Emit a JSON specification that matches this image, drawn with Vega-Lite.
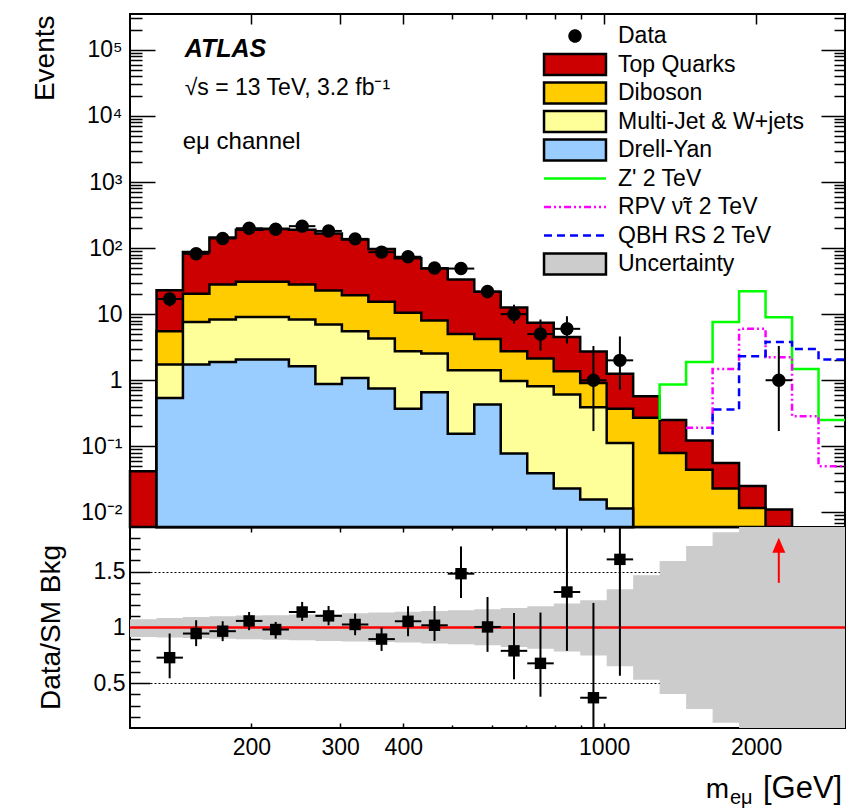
{
  "$schema": "https://vega.github.io/schema/vega-lite/v6.json",
  "background": "white",
  "padding": {"left": 29, "top": 12, "right": 0, "bottom": 0},
  "bounds": "flush",
  "spacing": 0,
  "config": {
    "font": "Liberation Sans",
    "view": {"stroke": "black", "strokeWidth": 2},
    "axis": {
      "domain": false, "grid": false, "tickColor": "black", "tickWidth": 1.5,
      "labelFont": "Liberation Sans", "labelFontSize": 23, "labelColor": "black",
      "labelOverlap": false, "labelFlush": false,
      "titleFont": "Liberation Sans", "titleFontSize": 28, "titleFontWeight": "normal", "titleColor": "black"
    },
    "legend": {
      "labelFont": "Liberation Sans", "labelFontSize": 23, "labelColor": "black", "labelLimit": 400,
      "symbolSize": 441, "symbolStrokeWidth": 2.5, "symbolFillColor": "transparent", "symbolOpacity": 1,
      "gridAlign": "all", "rowPadding": -3.5, "padding": 0, "offset": 0, "labelOffset": 31
    }
  },
  "datasets": {
    "bkg": [
      {"series": "Top Quarks", "m": 115, "stack_top": 0.042},
      {"series": "Top Quarks", "m": 129.8, "stack_top": 23},
      {"series": "Top Quarks", "m": 146.4, "stack_top": 87},
      {"series": "Top Quarks", "m": 165.2, "stack_top": 145},
      {"series": "Top Quarks", "m": 186.4, "stack_top": 190},
      {"series": "Top Quarks", "m": 210.4, "stack_top": 197},
      {"series": "Top Quarks", "m": 237.4, "stack_top": 190},
      {"series": "Top Quarks", "m": 267.9, "stack_top": 166},
      {"series": "Top Quarks", "m": 302.3, "stack_top": 135},
      {"series": "Top Quarks", "m": 341.1, "stack_top": 97},
      {"series": "Top Quarks", "m": 384.9, "stack_top": 70},
      {"series": "Top Quarks", "m": 434.3, "stack_top": 49},
      {"series": "Top Quarks", "m": 490.0, "stack_top": 33.5},
      {"series": "Top Quarks", "m": 553.0, "stack_top": 21.8},
      {"series": "Top Quarks", "m": 623.9, "stack_top": 12.6},
      {"series": "Top Quarks", "m": 704.1, "stack_top": 7.4},
      {"series": "Top Quarks", "m": 794.5, "stack_top": 4.5},
      {"series": "Top Quarks", "m": 896.5, "stack_top": 2.72},
      {"series": "Top Quarks", "m": 1011.6, "stack_top": 1.25},
      {"series": "Top Quarks", "m": 1141.4, "stack_top": 0.57},
      {"series": "Top Quarks", "m": 1288.0, "stack_top": 0.25},
      {"series": "Top Quarks", "m": 1453.4, "stack_top": 0.122},
      {"series": "Top Quarks", "m": 1640.0, "stack_top": 0.056},
      {"series": "Top Quarks", "m": 1850.5, "stack_top": 0.025},
      {"series": "Top Quarks", "m": 2088.1, "stack_top": 0.011},
      {"series": "Top Quarks", "m": 2356.3, "stack_top": 0.011},
      {"series": "Diboson", "m": 129.8, "stack_top": 5.5},
      {"series": "Diboson", "m": 146.4, "stack_top": 20.3},
      {"series": "Diboson", "m": 165.2, "stack_top": 28.2},
      {"series": "Diboson", "m": 186.4, "stack_top": 30.9},
      {"series": "Diboson", "m": 210.4, "stack_top": 30.9},
      {"series": "Diboson", "m": 237.4, "stack_top": 28.2},
      {"series": "Diboson", "m": 267.9, "stack_top": 22.9},
      {"series": "Diboson", "m": 302.3, "stack_top": 19.4},
      {"series": "Diboson", "m": 341.1, "stack_top": 15.4},
      {"series": "Diboson", "m": 384.9, "stack_top": 10.5},
      {"series": "Diboson", "m": 434.3, "stack_top": 8.0},
      {"series": "Diboson", "m": 490.0, "stack_top": 5.0},
      {"series": "Diboson", "m": 553.0, "stack_top": 4.2},
      {"series": "Diboson", "m": 623.9, "stack_top": 2.75},
      {"series": "Diboson", "m": 704.1, "stack_top": 2.13},
      {"series": "Diboson", "m": 794.5, "stack_top": 1.37},
      {"series": "Diboson", "m": 896.5, "stack_top": 0.91},
      {"series": "Diboson", "m": 1011.6, "stack_top": 0.37},
      {"series": "Diboson", "m": 1141.4, "stack_top": 0.27},
      {"series": "Diboson", "m": 1288.0, "stack_top": 0.079},
      {"series": "Diboson", "m": 1453.4, "stack_top": 0.044},
      {"series": "Diboson", "m": 1640.0, "stack_top": 0.023},
      {"series": "Diboson", "m": 1850.5, "stack_top": 0.0116},
      {"series": "Diboson", "m": 2088.1, "stack_top": 0.0116},
      {"series": "Multi-Jet & W+jets", "m": 129.8, "stack_top": 1.73},
      {"series": "Multi-Jet & W+jets", "m": 146.4, "stack_top": 7.6},
      {"series": "Multi-Jet & W+jets", "m": 165.2, "stack_top": 8.3},
      {"series": "Multi-Jet & W+jets", "m": 186.4, "stack_top": 9.1},
      {"series": "Multi-Jet & W+jets", "m": 210.4, "stack_top": 9.1},
      {"series": "Multi-Jet & W+jets", "m": 237.4, "stack_top": 8.3},
      {"series": "Multi-Jet & W+jets", "m": 267.9, "stack_top": 7.0},
      {"series": "Multi-Jet & W+jets", "m": 302.3, "stack_top": 5.5},
      {"series": "Multi-Jet & W+jets", "m": 341.1, "stack_top": 4.3},
      {"series": "Multi-Jet & W+jets", "m": 384.9, "stack_top": 2.75},
      {"series": "Multi-Jet & W+jets", "m": 434.3, "stack_top": 2.54},
      {"series": "Multi-Jet & W+jets", "m": 490.0, "stack_top": 1.42},
      {"series": "Multi-Jet & W+jets", "m": 553.0, "stack_top": 1.42},
      {"series": "Multi-Jet & W+jets", "m": 623.9, "stack_top": 0.97},
      {"series": "Multi-Jet & W+jets", "m": 704.1, "stack_top": 0.81},
      {"series": "Multi-Jet & W+jets", "m": 794.5, "stack_top": 0.61},
      {"series": "Multi-Jet & W+jets", "m": 896.5, "stack_top": 0.39},
      {"series": "Multi-Jet & W+jets", "m": 1011.6, "stack_top": 0.112},
      {"series": "Multi-Jet & W+jets", "m": 1141.4, "stack_top": 0.112},
      {"series": "Drell-Yan", "m": 129.8, "stack_top": 0.54},
      {"series": "Drell-Yan", "m": 146.4, "stack_top": 1.73},
      {"series": "Drell-Yan", "m": 165.2, "stack_top": 1.89},
      {"series": "Drell-Yan", "m": 186.4, "stack_top": 2.06},
      {"series": "Drell-Yan", "m": 210.4, "stack_top": 2.06},
      {"series": "Drell-Yan", "m": 237.4, "stack_top": 1.63},
      {"series": "Drell-Yan", "m": 267.9, "stack_top": 0.88},
      {"series": "Drell-Yan", "m": 302.3, "stack_top": 1.08},
      {"series": "Drell-Yan", "m": 341.1, "stack_top": 0.75},
      {"series": "Drell-Yan", "m": 384.9, "stack_top": 0.37},
      {"series": "Drell-Yan", "m": 434.3, "stack_top": 0.66},
      {"series": "Drell-Yan", "m": 490.0, "stack_top": 0.155},
      {"series": "Drell-Yan", "m": 553.0, "stack_top": 0.43},
      {"series": "Drell-Yan", "m": 623.9, "stack_top": 0.078},
      {"series": "Drell-Yan", "m": 704.1, "stack_top": 0.039},
      {"series": "Drell-Yan", "m": 794.5, "stack_top": 0.023},
      {"series": "Drell-Yan", "m": 896.5, "stack_top": 0.0156},
      {"series": "Drell-Yan", "m": 1011.6, "stack_top": 0.0114},
      {"series": "Drell-Yan", "m": 1141.4, "stack_top": 0.0114}
    ],
    "sig": [
      {"series": "Z' 2 TeV", "m": 1288.0, "events": 0.25},
      {"series": "Z' 2 TeV", "m": 1288.0, "events": 0.86},
      {"series": "Z' 2 TeV", "m": 1453.4, "events": 1.88},
      {"series": "Z' 2 TeV", "m": 1640.0, "events": 7.6},
      {"series": "Z' 2 TeV", "m": 1850.5, "events": 22.3},
      {"series": "Z' 2 TeV", "m": 2088.1, "events": 9.0},
      {"series": "Z' 2 TeV", "m": 2356.3, "events": 1.48},
      {"series": "Z' 2 TeV", "m": 2658.8, "events": 0.25},
      {"series": "Z' 2 TeV", "m": 3000, "events": 0.25},
      {"series": "RPV ν̃τ 2 TeV", "m": 1453.4, "events": 0.19},
      {"series": "RPV ν̃τ 2 TeV", "m": 1640.0, "events": 1.48},
      {"series": "RPV ν̃τ 2 TeV", "m": 1850.5, "events": 6.0},
      {"series": "RPV ν̃τ 2 TeV", "m": 2088.1, "events": 2.23},
      {"series": "RPV ν̃τ 2 TeV", "m": 2356.3, "events": 0.285},
      {"series": "RPV ν̃τ 2 TeV", "m": 2658.8, "events": 0.05},
      {"series": "RPV ν̃τ 2 TeV", "m": 3000, "events": 0.05},
      {"series": "QBH RS 2 TeV", "m": 1640.0, "events": 0.15},
      {"series": "QBH RS 2 TeV", "m": 1640.0, "events": 0.36},
      {"series": "QBH RS 2 TeV", "m": 1850.5, "events": 2.31},
      {"series": "QBH RS 2 TeV", "m": 2088.1, "events": 3.8},
      {"series": "QBH RS 2 TeV", "m": 2356.3, "events": 2.98},
      {"series": "QBH RS 2 TeV", "m": 2658.8, "events": 2.06},
      {"series": "QBH RS 2 TeV", "m": 3000, "events": 2.06}
    ],
    "obs": [
      {"series": "Data", "m": 137.8, "lo_m": 129.8, "hi_m": 146.4, "n": 17, "n_lo": 13, "n_hi": 21.2},
      {"series": "Data", "m": 155.5, "lo_m": 146.4, "hi_m": 165.2, "n": 82, "n_lo": 73, "n_hi": 91},
      {"series": "Data", "m": 175.5, "lo_m": 165.2, "hi_m": 186.4, "n": 140, "n_lo": 128, "n_hi": 152},
      {"series": "Data", "m": 198.0, "lo_m": 186.4, "hi_m": 210.4, "n": 200, "n_lo": 186, "n_hi": 214},
      {"series": "Data", "m": 223.5, "lo_m": 210.4, "hi_m": 237.4, "n": 193, "n_lo": 179, "n_hi": 207},
      {"series": "Data", "m": 252.2, "lo_m": 237.4, "hi_m": 267.9, "n": 215, "n_lo": 200, "n_hi": 230},
      {"series": "Data", "m": 284.5, "lo_m": 267.9, "hi_m": 302.3, "n": 182, "n_lo": 168, "n_hi": 196},
      {"series": "Data", "m": 321.1, "lo_m": 302.3, "hi_m": 341.1, "n": 138, "n_lo": 126, "n_hi": 150},
      {"series": "Data", "m": 362.3, "lo_m": 341.1, "hi_m": 384.9, "n": 87, "n_lo": 78, "n_hi": 96},
      {"series": "Data", "m": 408.8, "lo_m": 384.9, "hi_m": 434.3, "n": 74, "n_lo": 65, "n_hi": 83},
      {"series": "Data", "m": 461.3, "lo_m": 434.3, "hi_m": 490.0, "n": 50, "n_lo": 43, "n_hi": 57},
      {"series": "Data", "m": 520.5, "lo_m": 490.0, "hi_m": 553.0, "n": 49, "n_lo": 42, "n_hi": 56},
      {"series": "Data", "m": 587.4, "lo_m": 553.0, "hi_m": 623.9, "n": 22, "n_lo": 17.3, "n_hi": 26.7},
      {"series": "Data", "m": 662.8, "lo_m": 623.9, "hi_m": 704.1, "n": 10, "n_lo": 7.2, "n_hi": 13.9},
      {"series": "Data", "m": 747.9, "lo_m": 704.1, "hi_m": 794.5, "n": 5, "n_lo": 2.8, "n_hi": 8.3},
      {"series": "Data", "m": 843.9, "lo_m": 794.5, "hi_m": 896.5, "n": 6, "n_lo": 3.6, "n_hi": 9.3},
      {"series": "Data", "m": 952.3, "lo_m": 896.5, "hi_m": 1011.6, "n": 1, "n_lo": 0.17, "n_hi": 3.3},
      {"series": "Data", "m": 1074.5, "lo_m": 1011.6, "hi_m": 1141.4, "n": 2, "n_lo": 0.72, "n_hi": 4.6},
      {"series": "Data", "m": 2218.2, "lo_m": 2088.1, "hi_m": 2356.3, "n": 1, "n_lo": 0.17, "n_hi": 3.3}
    ],
    "ratio": [
      {"m": 137.8, "lo_m": 129.8, "hi_m": 146.4, "r": 0.73, "r_lo": 0.545, "r_hi": 0.946},
      {"m": 155.5, "lo_m": 146.4, "hi_m": 165.2, "r": 0.946, "r_lo": 0.833, "r_hi": 1.065},
      {"m": 175.5, "lo_m": 165.2, "hi_m": 186.4, "r": 0.967, "r_lo": 0.878, "r_hi": 1.056},
      {"m": 198.0, "lo_m": 186.4, "hi_m": 210.4, "r": 1.059, "r_lo": 0.976, "r_hi": 1.139},
      {"m": 223.5, "lo_m": 210.4, "hi_m": 237.4, "r": 0.982, "r_lo": 0.9, "r_hi": 1.05},
      {"m": 252.2, "lo_m": 237.4, "hi_m": 267.9, "r": 1.139, "r_lo": 1.059, "r_hi": 1.229},
      {"m": 284.5, "lo_m": 267.9, "hi_m": 302.3, "r": 1.104, "r_lo": 1.02, "r_hi": 1.193},
      {"m": 321.1, "lo_m": 302.3, "hi_m": 341.1, "r": 1.027, "r_lo": 0.931, "r_hi": 1.125},
      {"m": 362.3, "lo_m": 341.1, "hi_m": 384.9, "r": 0.896, "r_lo": 0.79, "r_hi": 1.0},
      {"m": 408.8, "lo_m": 384.9, "hi_m": 434.3, "r": 1.056, "r_lo": 0.922, "r_hi": 1.19},
      {"m": 461.3, "lo_m": 434.3, "hi_m": 490.0, "r": 1.02, "r_lo": 0.88, "r_hi": 1.193},
      {"m": 520.5, "lo_m": 490.0, "hi_m": 553.0, "r": 1.482, "r_lo": 1.264, "r_hi": 1.726},
      {"m": 587.4, "lo_m": 553.0, "hi_m": 623.9, "r": 1.005, "r_lo": 0.782, "r_hi": 1.273},
      {"m": 662.8, "lo_m": 623.9, "hi_m": 704.1, "r": 0.791, "r_lo": 0.536, "r_hi": 1.13},
      {"m": 747.9, "lo_m": 704.1, "hi_m": 794.5, "r": 0.679, "r_lo": 0.38, "r_hi": 1.134},
      {"m": 843.9, "lo_m": 794.5, "hi_m": 896.5, "r": 1.318, "r_lo": 0.791, "r_hi": 2.1},
      {"m": 952.3, "lo_m": 896.5, "hi_m": 1011.6, "r": 0.371, "r_lo": 0.06, "r_hi": 1.22},
      {"m": 1074.5, "lo_m": 1011.6, "hi_m": 1141.4, "r": 1.61, "r_lo": 0.568, "r_hi": 2.4}
    ],
    "band": [
      {"m": 115, "up": 1.074, "down": 0.916},
      {"m": 129.8, "up": 1.086, "down": 0.91},
      {"m": 146.4, "up": 1.095, "down": 0.905},
      {"m": 165.2, "up": 1.1, "down": 0.9},
      {"m": 186.4, "up": 1.107, "down": 0.895},
      {"m": 210.4, "up": 1.11, "down": 0.89},
      {"m": 237.4, "up": 1.116, "down": 0.885},
      {"m": 267.9, "up": 1.12, "down": 0.88},
      {"m": 302.3, "up": 1.128, "down": 0.875},
      {"m": 341.1, "up": 1.134, "down": 0.87},
      {"m": 384.9, "up": 1.14, "down": 0.865},
      {"m": 434.3, "up": 1.148, "down": 0.857},
      {"m": 490.0, "up": 1.155, "down": 0.85},
      {"m": 553.0, "up": 1.163, "down": 0.84},
      {"m": 623.9, "up": 1.175, "down": 0.825},
      {"m": 704.1, "up": 1.19, "down": 0.81},
      {"m": 794.5, "up": 1.214, "down": 0.785},
      {"m": 896.5, "up": 1.244, "down": 0.75},
      {"m": 1011.6, "up": 1.342, "down": 0.652},
      {"m": 1141.4, "up": 1.467, "down": 0.533},
      {"m": 1288.0, "up": 1.595, "down": 0.405},
      {"m": 1453.4, "up": 1.729, "down": 0.271},
      {"m": 1640.0, "up": 1.854, "down": 0.146},
      {"m": 1850.5, "up": 1.9, "down": 0.1},
      {"m": 2088.1, "up": 1.9, "down": 0.1},
      {"m": 2356.3, "up": 1.9, "down": 0.1},
      {"m": 2658.8, "up": 1.9, "down": 0.1},
      {"m": 3000, "up": 1.9, "down": 0.1}
    ]
  },
  "resolve": {
    "scale": {"fill": "independent", "stroke": "independent", "shape": "independent", "strokeDash": "independent"},
    "legend": {"fill": "independent", "stroke": "independent", "shape": "independent", "strokeDash": "independent"}
  },
  "vconcat": [
    {
      "width": 715,
      "height": 513,
      "resolve": {"axis": {"x": "independent", "y": "independent"}},
      "layer": [
        {
          "data": {"name": "bkg"},
          "transform": [{"filter": "datum.series === 'Top Quarks'"}],
          "mark": {"type": "area", "interpolate": "step-after", "strokeWidth": 2.5},
          "encoding": {
            "x": {"field": "m", "type": "quantitative", "scale": {"type": "log", "domain": [115, 3000], "nice": false},
                  "axis": {"orient": "bottom", "values": [200, 300, 400, 1000, 2000], "tickSize": -10, "labels": false, "title": null}},
            "y": {"field": "stack_top", "type": "quantitative", "stack": null, "scale": {"type": "log", "domain": [0.006, 350000], "nice": false},
                  "axis": {"orient": "left", "values": [0.01, 0.1, 1, 10, 100, 1000, 10000, 100000], "tickSize": -25, "labelPadding": 33,
                           "labelExpr": "datum.value < 0.05 ? '10⁻²' : datum.value < 0.5 ? '10⁻¹' : datum.value < 5 ? '1' : datum.value < 50 ? '10' : datum.value < 500 ? '10²' : datum.value < 5000 ? '10³' : datum.value < 50000 ? '10⁴' : '10⁵'",
                           "title": "Events", "titleX": -77, "titleY": 1, "titleAlign": "right", "titleAngle": -90, "titleBaseline": "alphabetic"}},
            "fill": {"field": "series", "type": "nominal",
                     "scale": {"domain": ["Data", "Top Quarks", "Diboson", "Multi-Jet & W+jets", "Drell-Yan", "Z' 2 TeV", "RPV ν̃τ 2 TeV", "QBH RS 2 TeV", "Uncertainty"],
                               "range": ["#000000", "#cc0000", "#ffcc00", "#ffff99", "#99ccff", "transparent", "transparent", "transparent", "#cccccc"]},
                     "legend": {"orient": "none", "legendX": 433, "legendY": 10, "title": null}},
            "stroke": {"field": "series", "type": "nominal",
                       "scale": {"domain": ["Data", "Top Quarks", "Diboson", "Multi-Jet & W+jets", "Drell-Yan", "Z' 2 TeV", "RPV ν̃τ 2 TeV", "QBH RS 2 TeV", "Uncertainty"],
                                 "range": ["#000000", "#000000", "#000000", "#000000", "#000000", "#00ff00", "#ff00ff", "#0000ff", "#000000"]},
                       "legend": {"orient": "none", "legendX": 433, "legendY": 10, "title": null}}
          }
        },
        {
          "data": {"name": "bkg"},
          "transform": [{"filter": "datum.series === 'Diboson'"}],
          "mark": {"type": "area", "interpolate": "step-after", "strokeWidth": 2.5},
          "encoding": {
            "x": {"field": "m", "type": "quantitative", "scale": {"type": "log", "domain": [115, 3000], "nice": false},
                  "axis": {"orient": "bottom", "values": [500, 600, 700, 800, 900], "tickSize": -5, "labels": false, "title": null}},
            "y": {"field": "stack_top", "type": "quantitative", "stack": null, "scale": {"type": "log", "domain": [0.006, 350000], "nice": false},
                  "axis": {"orient": "left", "values": [0.007, 0.008, 0.009, 0.02, 0.03, 0.04, 0.05, 0.06, 0.07, 0.08, 0.09, 0.2, 0.3, 0.4, 0.5, 0.6, 0.7, 0.8, 0.9, 2, 3, 4, 5, 6, 7, 8, 9, 20, 30, 40, 50, 60, 70, 80, 90, 200, 300, 400, 500, 600, 700, 800, 900, 2000, 3000, 4000, 5000, 6000, 7000, 8000, 9000, 20000, 30000, 40000, 50000, 60000, 70000, 80000, 90000, 200000, 300000],
                           "tickSize": -12, "labels": false, "title": null}},
            "fill": {"field": "series", "type": "nominal", "legend": {"orient": "none", "legendX": 433, "legendY": 10, "title": null}},
            "stroke": {"field": "series", "type": "nominal", "legend": {"orient": "none", "legendX": 433, "legendY": 10, "title": null}}
          }
        },
        {
          "data": {"name": "bkg"},
          "transform": [{"filter": "datum.series === 'Multi-Jet & W+jets'"}],
          "mark": {"type": "area", "interpolate": "step-after", "strokeWidth": 2.5},
          "encoding": {
            "x": {"field": "m", "type": "quantitative", "scale": {"type": "log", "domain": [115, 3000], "nice": false},
                  "axis": {"orient": "top", "values": [200, 300, 400, 1000, 2000], "tickSize": -10, "labels": false, "title": null}},
            "y": {"field": "stack_top", "type": "quantitative", "stack": null, "scale": {"type": "log", "domain": [0.006, 350000], "nice": false},
                  "axis": {"orient": "right", "values": [0.01, 0.1, 1, 10, 100, 1000, 10000, 100000], "tickSize": -24, "labels": false, "title": null}},
            "fill": {"field": "series", "type": "nominal", "legend": {"orient": "none", "legendX": 433, "legendY": 10, "title": null}},
            "stroke": {"field": "series", "type": "nominal", "legend": {"orient": "none", "legendX": 433, "legendY": 10, "title": null}}
          }
        },
        {
          "data": {"name": "bkg"},
          "transform": [{"filter": "datum.series === 'Drell-Yan'"}],
          "mark": {"type": "area", "interpolate": "step-after", "strokeWidth": 2.5},
          "encoding": {
            "x": {"field": "m", "type": "quantitative", "scale": {"type": "log", "domain": [115, 3000], "nice": false},
                  "axis": {"orient": "top", "values": [500, 600, 700, 800, 900], "tickSize": -5, "labels": false, "title": null}},
            "y": {"field": "stack_top", "type": "quantitative", "stack": null, "scale": {"type": "log", "domain": [0.006, 350000], "nice": false},
                  "axis": {"orient": "right", "values": [0.007, 0.008, 0.009, 0.02, 0.03, 0.04, 0.05, 0.06, 0.07, 0.08, 0.09, 0.2, 0.3, 0.4, 0.5, 0.6, 0.7, 0.8, 0.9, 2, 3, 4, 5, 6, 7, 8, 9, 20, 30, 40, 50, 60, 70, 80, 90, 200, 300, 400, 500, 600, 700, 800, 900, 2000, 3000, 4000, 5000, 6000, 7000, 8000, 9000, 20000, 30000, 40000, 50000, 60000, 70000, 80000, 90000, 200000, 300000],
                           "tickSize": -11, "labels": false, "title": null}},
            "fill": {"field": "series", "type": "nominal", "legend": {"orient": "none", "legendX": 433, "legendY": 10, "title": null}},
            "stroke": {"field": "series", "type": "nominal", "legend": {"orient": "none", "legendX": 433, "legendY": 10, "title": null}}
          }
        },
        {
          "data": {"name": "sig"},
          "mark": {"type": "line", "interpolate": "step-after", "strokeWidth": 2.5},
          "encoding": {
            "x": {"field": "m", "type": "quantitative", "scale": {"type": "log", "domain": [115, 3000], "nice": false}, "axis": null},
            "y": {"field": "events", "type": "quantitative", "scale": {"type": "log", "domain": [0.006, 350000], "nice": false}, "axis": null},
            "stroke": {"field": "series", "type": "nominal", "legend": {"orient": "none", "legendX": 433, "legendY": 10, "title": null}},
            "strokeDash": {"field": "series", "type": "nominal",
                           "scale": {"domain": ["Data", "Top Quarks", "Diboson", "Multi-Jet & W+jets", "Drell-Yan", "Z' 2 TeV", "RPV ν̃τ 2 TeV", "QBH RS 2 TeV", "Uncertainty"],
                                     "range": [[1, 0], [1, 0], [1, 0], [1, 0], [1, 0], [1, 0], [7, 3, 2, 3, 2, 3], [8, 5], [1, 0]]},
                           "legend": {"orient": "none", "legendX": 433, "legendY": 10, "title": null}}
          }
        },
        {
          "data": {"name": "obs"},
          "mark": {"type": "rule", "color": "black", "strokeWidth": 2},
          "encoding": {
            "x": {"field": "m", "type": "quantitative", "scale": {"type": "log", "domain": [115, 3000], "nice": false}, "axis": null},
            "y": {"field": "n_lo", "type": "quantitative", "scale": {"type": "log", "domain": [0.006, 350000], "nice": false}, "axis": null},
            "y2": {"field": "n_hi"}
          }
        },
        {
          "data": {"name": "obs"},
          "mark": {"type": "rule", "color": "black", "strokeWidth": 2},
          "encoding": {
            "x": {"field": "lo_m", "type": "quantitative", "scale": {"type": "log", "domain": [115, 3000], "nice": false}, "axis": null},
            "x2": {"field": "hi_m"},
            "y": {"field": "n", "type": "quantitative", "scale": {"type": "log", "domain": [0.006, 350000], "nice": false}, "axis": null}
          }
        },
        {
          "data": {"name": "obs"},
          "mark": {"type": "point", "filled": true, "size": 441, "opacity": 1, "strokeWidth": 2.5},
          "encoding": {
            "x": {"field": "m", "type": "quantitative", "scale": {"type": "log", "domain": [115, 3000], "nice": false}, "axis": null},
            "y": {"field": "n", "type": "quantitative", "scale": {"type": "log", "domain": [0.006, 350000], "nice": false}, "axis": null},
            "fill": {"field": "series", "type": "nominal", "legend": {"orient": "none", "legendX": 433, "legendY": 10, "title": null}},
            "stroke": {"field": "series", "type": "nominal", "legend": {"orient": "none", "legendX": 433, "legendY": 10, "title": null}},
            "shape": {"field": "series", "type": "nominal",
                      "scale": {"domain": ["Data", "Top Quarks", "Diboson", "Multi-Jet & W+jets", "Drell-Yan", "Z' 2 TeV", "RPV ν̃τ 2 TeV", "QBH RS 2 TeV", "Uncertainty"],
                                "range": ["M-0.52,0A0.52,0.52 0 1,0 0.52,0A0.52,0.52 0 1,0 -0.52,0Z", "M-2.95,-1H2.95V1H-2.95Z", "M-2.95,-1H2.95V1H-2.95Z", "M-2.95,-1H2.95V1H-2.95Z", "M-2.95,-1H2.95V1H-2.95Z", "M-2.95,0H2.95", "M-2.95,0H2.95", "M-2.95,0H2.95", "M-2.95,-1H2.95V1H-2.95Z"]},
                      "legend": {"orient": "none", "legendX": 433, "legendY": 10, "title": null}}
          }
        },
        {
          "data": {"values": [{}]},
          "mark": {"type": "text", "text": "ATLAS", "fontSize": 25, "fontWeight": "bold", "fontStyle": "italic", "align": "left", "baseline": "alphabetic", "color": "black"},
          "encoding": {
            "x": {"datum": 147.6, "type": "quantitative", "scale": {"type": "log", "domain": [115, 3000], "nice": false}, "axis": null},
            "y": {"datum": 78740, "type": "quantitative", "scale": {"type": "log", "domain": [0.006, 350000], "nice": false}, "axis": null}
          }
        },
        {
          "data": {"values": [{}]},
          "mark": {"type": "text", "text": "√s = 13 TeV, 3.2 fb⁻¹", "fontSize": 23, "align": "left", "baseline": "alphabetic", "color": "black"},
          "encoding": {
            "x": {"datum": 147.6, "type": "quantitative", "scale": {"type": "log", "domain": [115, 3000], "nice": false}, "axis": null},
            "y": {"datum": 21090, "type": "quantitative", "scale": {"type": "log", "domain": [0.006, 350000], "nice": false}, "axis": null}
          }
        },
        {
          "data": {"values": [{}]},
          "mark": {"type": "text", "text": "eμ channel", "fontSize": 24, "align": "left", "baseline": "alphabetic", "color": "black"},
          "encoding": {
            "x": {"datum": 146.3, "type": "quantitative", "scale": {"type": "log", "domain": [115, 3000], "nice": false}, "axis": null},
            "y": {"datum": 3166, "type": "quantitative", "scale": {"type": "log", "domain": [0.006, 350000], "nice": false}, "axis": null}
          }
        }
      ]
    },
    {
      "width": 715,
      "height": 201,
      "resolve": {"axis": {"x": "independent", "y": "independent"}},
      "layer": [
        {
          "data": {"name": "band"},
          "mark": {"type": "area", "interpolate": "step-after", "fill": "#cccccc", "clip": true},
          "encoding": {
            "x": {"field": "m", "type": "quantitative", "scale": {"type": "log", "domain": [115, 3000], "nice": false},
                  "axis": {"orient": "bottom", "values": [200, 300, 400, 1000, 2000], "tickSize": -5, "labelPadding": 13, "format": "d", "title": null}},
            "y": {"field": "up", "type": "quantitative", "scale": {"domain": [0.1, 1.9], "nice": false, "zero": false},
                  "axis": {"orient": "left", "values": [0.5, 1, 1.5], "tickSize": -20, "labelPadding": 25, "format": "~g",
                           "grid": true, "gridDash": [2, 2], "gridColor": "black", "gridWidth": 1,
                           "title": "Data/SM Bkg", "titleX": -71, "titleY": 100, "titleAlign": "center", "titleAngle": -90, "titleBaseline": "alphabetic"}},
            "y2": {"field": "down"}
          }
        },
        {
          "data": {"values": [{}]},
          "mark": {"type": "rule", "color": "#ff0000", "strokeWidth": 2.5},
          "encoding": {
            "y": {"datum": 1, "type": "quantitative", "scale": {"domain": [0.1, 1.9], "nice": false, "zero": false}, "axis": null}
          }
        },
        {
          "data": {"name": "ratio"},
          "mark": {"type": "rule", "color": "black", "strokeWidth": 2, "clip": true},
          "encoding": {
            "x": {"field": "m", "type": "quantitative", "scale": {"type": "log", "domain": [115, 3000], "nice": false},
                  "axis": {"orient": "bottom", "values": [500, 600, 700, 800, 900], "tickSize": -3, "labels": false, "title": null}},
            "y": {"field": "r_lo", "type": "quantitative", "scale": {"domain": [0.1, 1.9], "nice": false, "zero": false},
                  "axis": {"orient": "left", "values": [0.2, 0.3, 0.4, 0.6, 0.7, 0.8, 0.9, 1.1, 1.2, 1.3, 1.4, 1.6, 1.7, 1.8], "tickSize": -10, "labels": false, "title": null}},
            "y2": {"field": "r_hi"}
          }
        },
        {
          "data": {"name": "ratio"},
          "mark": {"type": "rule", "color": "black", "strokeWidth": 2, "clip": true},
          "encoding": {
            "x": {"field": "lo_m", "type": "quantitative", "scale": {"type": "log", "domain": [115, 3000], "nice": false},
                  "axis": {"orient": "top", "values": [200, 300, 400, 1000, 2000], "tickSize": -5, "labels": false, "title": null}},
            "x2": {"field": "hi_m"},
            "y": {"field": "r", "type": "quantitative", "scale": {"domain": [0.1, 1.9], "nice": false, "zero": false},
                  "axis": {"orient": "right", "values": [0.5, 1, 1.5], "tickSize": -20, "labels": false, "title": null}}
          }
        },
        {
          "data": {"name": "ratio"},
          "mark": {"type": "square", "size": 130, "color": "black", "opacity": 1, "clip": true},
          "encoding": {
            "x": {"field": "m", "type": "quantitative", "scale": {"type": "log", "domain": [115, 3000], "nice": false},
                  "axis": {"orient": "top", "values": [500, 600, 700, 800, 900], "tickSize": -3, "labels": false, "title": null}},
            "y": {"field": "r", "type": "quantitative", "scale": {"domain": [0.1, 1.9], "nice": false, "zero": false},
                  "axis": {"orient": "right", "values": [0.2, 0.3, 0.4, 0.6, 0.7, 0.8, 0.9, 1.1, 1.2, 1.3, 1.4, 1.6, 1.7, 1.8], "tickSize": -10, "labels": false, "title": null}}
          }
        },
        {
          "data": {"values": [{}]},
          "mark": {"type": "rule", "color": "#ff0000", "strokeWidth": 2},
          "encoding": {
            "x": {"datum": 2218.2, "type": "quantitative", "scale": {"type": "log", "domain": [115, 3000], "nice": false}, "axis": null},
            "y": {"datum": 1.4, "type": "quantitative", "scale": {"domain": [0.1, 1.9], "nice": false, "zero": false}, "axis": null},
            "y2": {"datum": 1.7}
          }
        },
        {
          "data": {"values": [{}]},
          "mark": {"type": "point", "shape": "M0,-1L0.87,1L-0.87,1Z", "size": 225, "filled": true, "color": "#ff0000", "opacity": 1},
          "encoding": {
            "x": {"datum": 2218.2, "type": "quantitative", "scale": {"type": "log", "domain": [115, 3000], "nice": false}, "axis": null},
            "y": {"datum": 1.737, "type": "quantitative", "scale": {"domain": [0.1, 1.9], "nice": false, "zero": false}, "axis": null}
          }
        },
        {
          "data": {"values": [{}]},
          "mark": {"type": "text", "text": "m", "fontSize": 28, "align": "left", "baseline": "alphabetic", "color": "black"},
          "encoding": {
            "x": {"datum": 1590, "type": "quantitative", "scale": {"type": "log", "domain": [115, 3000], "nice": false}, "axis": null},
            "y": {"datum": -0.527, "type": "quantitative", "scale": {"domain": [0.1, 1.9], "nice": false, "zero": false}, "axis": null}
          }
        },
        {
          "data": {"values": [{}]},
          "mark": {"type": "text", "text": "eμ", "fontSize": 20, "align": "left", "baseline": "alphabetic", "color": "black"},
          "encoding": {
            "x": {"datum": 1775, "type": "quantitative", "scale": {"type": "log", "domain": [115, 3000], "nice": false}, "axis": null},
            "y": {"datum": -0.58, "type": "quantitative", "scale": {"domain": [0.1, 1.9], "nice": false, "zero": false}, "axis": null}
          }
        },
        {
          "data": {"values": [{}]},
          "mark": {"type": "text", "text": "[GeV]", "fontSize": 31, "align": "right", "baseline": "alphabetic", "color": "black"},
          "encoding": {
            "x": {"datum": 2962, "type": "quantitative", "scale": {"type": "log", "domain": [115, 3000], "nice": false}, "axis": null},
            "y": {"datum": -0.527, "type": "quantitative", "scale": {"domain": [0.1, 1.9], "nice": false, "zero": false}, "axis": null}
          }
        }
      ]
    }
  ]
}
